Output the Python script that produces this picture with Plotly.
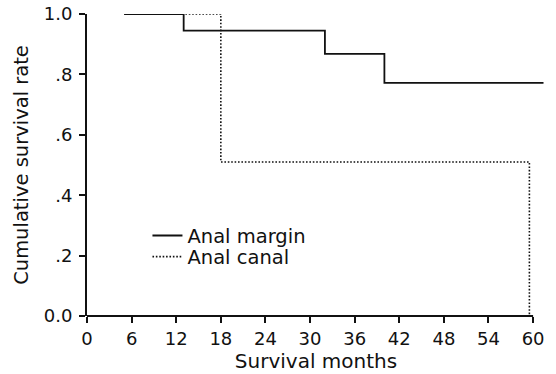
import plotly.graph_objects as go

# Data (Kaplan-Meier step curves)
margin_months = [5, 13, 32, 40, 61.4]
margin_survival = [1.0, 0.945, 0.868, 0.772, 0.772]

canal_months = [5, 18, 59.5]
canal_survival = [1.0, 0.51, 0.0]

x_ticks = [0, 6, 12, 18, 24, 30, 36, 42, 48, 54, 60]
y_ticks = [0.0, 0.2, 0.4, 0.6, 0.8, 1.0]
y_tick_labels = ["0.0", ".2", ".4", ".6", ".8", "1.0"]

FONT = "DejaVu Sans, Liberation Sans, Arial, sans-serif"
INK = "#111111"

fig = go.Figure()
fig.add_trace(go.Scatter(
    x=canal_months, y=canal_survival, mode="lines", name="Anal canal",
    line=dict(color=INK, width=1.6, dash="1.6px,1.8px", shape="hv"),
    legend="legend2",
))
fig.add_trace(go.Scatter(
    x=margin_months, y=margin_survival, mode="lines", name="Anal margin",
    line=dict(color=INK, width=1.8, shape="hv"),
    legend="legend",
))

# x axis line only from 0 to 60 (curves run slightly past 60)
fig.add_shape(type="line", xref="x", yref="paper", x0=0, x1=60, y0=0, y1=0,
              line=dict(color=INK, width=1.8), layer="above")

legend_style = dict(xanchor="left", yanchor="top", bgcolor="rgba(0,0,0,0)",
                    font=dict(size=19.5), tracegroupgap=0)

fig.update_layout(
    width=556, height=374,
    margin=dict(l=87, r=11, t=14, b=58),
    paper_bgcolor="white", plot_bgcolor="white",
    font=dict(family=FONT, size=19, color=INK),
    showlegend=True,
    legend=dict(x=0.132, y=0.33, **legend_style),
    legend2=dict(x=0.132, y=0.260, **legend_style),
    xaxis=dict(range=[0, 61.6], tickvals=x_ticks, ticks="outside", ticklen=6,
               tickwidth=1.5, tickcolor=INK, showgrid=False, zeroline=False,
               showline=False, automargin=False, tickfont=dict(size=18),
               title=dict(text="Survival months", standoff=0,
                          font=dict(size=20))),
    yaxis=dict(range=[0, 1.0], tickvals=y_ticks, ticktext=y_tick_labels,
               ticks="outside", ticklen=6, tickwidth=1.5, tickcolor=INK,
               showgrid=False, zeroline=False, showline=True,
               linecolor=INK, linewidth=1.8, automargin=False,
               tickfont=dict(size=18), ticklabelstandoff=3,
               title=dict(text="Cumulative survival rate", standoff=10,
                          font=dict(size=19.5))),
)

fig.write_html("out.html", config={"displayModeBar": False},
               post_script="document.body.style.margin='0';")
